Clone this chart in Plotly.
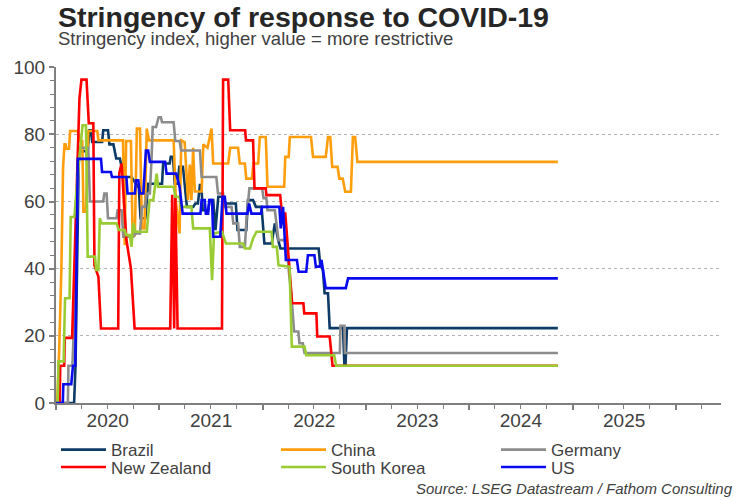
import plotly.graph_objects as go

# ---------------- data ----------------
brazil_dates = ["2020-01-01","2020-03-05","2020-03-10","2020-03-16","2020-03-22","2020-04-22","2020-04-28","2020-05-04","2020-05-08","2020-06-12","2020-06-16","2020-07-03","2020-07-08","2020-07-22","2020-08-01","2020-08-14","2020-08-20","2020-08-30","2020-09-24","2020-10-04","2020-10-20","2020-10-26","2020-11-12","2020-11-22","2020-12-10","2021-01-10","2021-01-14","2021-02-06","2021-02-10","2021-02-18","2021-02-24","2021-03-07","2021-03-12","2021-03-25","2021-04-08","2021-04-30","2021-05-08","2021-05-17","2021-05-24","2021-05-29","2021-06-03","2021-06-22","2021-06-28","2021-07-10","2021-07-18","2021-07-28","2021-08-10","2021-08-20","2021-09-28","2021-10-04","2021-11-04","2021-11-10","2021-11-28","2021-12-08","2021-12-28","2022-01-07","2022-02-02","2022-02-13","2022-02-25","2022-03-05","2022-07-18","2022-07-23","2022-08-02","2022-08-08","2022-08-20","2022-08-26","2022-10-12","2022-10-17","2022-10-21","2022-10-26","2024-11-10"]
brazil_vals = [0,0,11,40,75,75,81.2,81.2,77.7,77.7,81.2,81.2,77,77,72.8,72.8,70.3,67.3,67.3,66,64,55,55,65.3,65.3,65.3,71.3,71.3,73.3,73.3,65.3,65.3,70.3,70.3,58.4,58.4,59.4,59.4,64.9,64.9,57.4,57.4,60.4,60.4,51.5,61.4,61.4,59.4,59.4,51.5,51.5,60.4,60.4,58.4,58.4,47.5,47.5,53.5,48.5,46,46,41.6,39.6,32.7,32.7,22.3,22.3,11.4,11.4,22.3,22.3]

china_dates = ["2020-01-01","2020-01-05","2020-01-12","2020-01-20","2020-01-26","2020-01-31","2020-02-04","2020-02-07","2020-02-16","2020-02-20","2020-03-18","2020-03-24","2020-04-03","2020-04-07","2020-04-16","2020-04-24","2020-05-26","2020-05-30","2020-08-25","2020-08-31","2020-09-05","2020-09-22","2020-09-28","2020-10-06","2020-10-13","2020-10-24","2020-10-31","2020-11-09","2020-11-17","2020-11-25","2021-02-20","2021-02-28","2021-03-13","2021-03-19","2021-03-31","2021-04-12","2021-04-18","2021-04-24","2021-04-30","2021-05-06","2021-05-30","2021-06-05","2021-06-20","2021-07-04","2021-07-10","2021-09-01","2021-09-08","2021-10-06","2021-10-12","2021-10-30","2021-11-04","2021-11-24","2021-11-29","2021-12-16","2021-12-22","2022-01-12","2022-01-18","2022-03-18","2022-03-22","2022-04-03","2022-04-07","2022-06-21","2022-06-28","2022-08-12","2022-08-20","2022-08-28","2022-09-04","2022-09-23","2022-09-29","2022-10-11","2022-10-20","2022-11-09","2022-11-16","2022-11-24","2022-12-02","2024-11-10"]
china_vals = [0,0,15,40,70,77,77,75.7,75.7,81,81,78,78,57,57,81,81,78.2,78.2,47,78,78,50,50,81.7,81.7,52,52,81.7,78.2,78.2,60,50.5,78.2,77.7,60.4,71,60.4,76,63,63,77,76,81.7,71.3,71.3,76,76,71.3,71.3,66.8,66.8,71.3,71.3,79.2,79.2,64.4,64.4,73.3,73.3,79.2,79.2,73.3,73.3,79.2,79.2,70.3,70.3,66.8,66.8,62.9,62.9,79.2,79.2,71.8,71.8]

germany_dates = ["2020-01-01","2020-02-12","2020-02-14","2020-02-28","2020-03-08","2020-03-16","2020-03-24","2020-04-24","2020-04-30","2020-06-16","2020-06-20","2020-06-28","2020-07-03","2020-08-02","2020-08-06","2020-08-20","2020-08-26","2020-10-01","2020-10-06","2020-10-24","2020-10-31","2020-11-10","2020-11-17","2020-11-28","2020-12-04","2020-12-08","2020-12-20","2020-12-29","2021-01-06","2021-01-10","2021-02-20","2021-02-26","2021-03-13","2021-03-19","2021-05-24","2021-05-30","2021-07-21","2021-07-27","2021-08-14","2021-08-20","2021-09-13","2021-09-19","2021-10-06","2021-10-12","2021-10-30","2021-11-05","2021-11-15","2021-12-30","2022-01-04","2022-01-14","2022-01-18","2022-02-13","2022-02-26","2022-03-25","2022-04-05","2022-04-12","2022-04-22","2022-05-07","2022-05-11","2022-05-23","2022-05-29","2022-10-01","2022-10-03","2022-10-17","2022-10-19","2024-11-10"]
germany_vals = [0,0,11.1,11.1,30,60,76,76,60,60,62.4,62.4,55,55,57.4,57.4,49.5,49.5,50.5,50.5,58.4,58.4,62.4,62.4,73,82.2,82.2,85.1,85.1,83.6,83.6,78,78,75.2,75.2,67.3,67.3,62.4,62.4,58.4,58.4,53.5,53.5,46.5,46.5,55,63.9,63.9,61,61,57.4,57.4,48.5,48.5,38,32.7,21.3,21.3,17.8,17.8,14.9,14.9,23,23,14.9,14.9]

nz_dates = ["2020-01-01","2020-01-14","2020-01-16","2020-01-30","2020-02-01","2020-02-27","2020-03-24","2020-03-31","2020-04-18","2020-04-26","2020-05-12","2020-05-16","2020-05-30","2020-06-08","2020-08-08","2020-08-12","2020-08-20","2020-09-06","2020-09-22","2020-10-05","2021-02-08","2021-02-15","2021-02-22","2021-02-26","2021-03-06","2021-08-10","2021-08-14","2021-09-01","2021-09-08","2021-10-31","2021-11-03","2021-11-28","2021-12-03","2022-01-12","2022-01-14","2022-03-04","2022-03-10","2022-03-22","2022-04-15","2022-05-25","2022-05-28","2022-07-10","2022-07-13","2022-08-26","2022-09-05","2024-11-10"]
nz_vals = [0,0,11.1,11.1,19.4,19.4,90.7,96.3,96.3,83.3,83.3,41,37.6,22.2,22.2,68.5,71.3,48.6,40,22.2,22.2,62,22.2,62,22.2,22.2,96.3,96.3,81.2,81.2,78.2,78.2,63.9,63.9,61.9,61.9,56.4,56.4,29.7,29.7,26.7,26.7,19.8,19.8,11.1,11.1]

korea_dates = ["2020-01-01","2020-01-07","2020-01-10","2020-01-28","2020-02-02","2020-02-18","2020-02-22","2020-03-06","2020-03-20","2020-04-04","2020-04-16","2020-04-22","2020-05-18","2020-05-22","2020-05-30","2020-06-04","2020-06-10","2020-08-02","2020-08-10","2020-08-31","2020-09-05","2020-09-18","2020-09-24","2020-09-30","2020-10-08","2020-11-17","2020-11-27","2020-12-10","2020-12-16","2020-12-22","2020-12-27","2021-02-20","2021-02-26","2021-03-13","2021-03-19","2021-04-24","2021-04-30","2021-06-28","2021-07-06","2021-07-13","2021-08-10","2021-08-24","2021-10-24","2021-10-30","2021-11-17","2021-11-28","2021-12-10","2022-02-01","2022-02-06","2022-02-20","2022-02-26","2022-04-06","2022-04-14","2022-05-29","2022-06-04","2022-09-11","2022-09-18","2024-11-10"]
korea_vals = [0,0,12.4,12.4,31.2,31.2,55.4,55.4,70,82.7,82.7,43.6,43.6,39.6,39.6,55,53.5,53.5,51.5,51.5,50,50,46.5,53.5,51,51,60.4,60.4,64.4,68.3,64.4,64.4,61.4,61.4,58.4,58.4,52,52,36.6,50.5,51,47.5,47.5,46,46,49,51,51,46.5,46.5,41,40.6,16.8,16.8,14.2,14.2,11.1,11.1]

us_dates = ["2020-01-01","2020-01-25","2020-01-27","2020-02-24","2020-03-01","2020-03-09","2020-03-18","2020-06-08","2020-06-12","2020-07-13","2020-07-17","2020-09-06","2020-09-10","2020-10-06","2020-10-10","2020-10-18","2020-10-24","2020-11-05","2020-11-14","2020-11-22","2020-11-28","2021-01-21","2021-01-26","2021-03-01","2021-03-13","2021-03-24","2021-05-26","2021-05-30","2021-06-10","2021-06-14","2021-06-22","2021-06-26","2021-07-06","2021-07-10","2021-08-04","2021-08-12","2021-08-20","2021-08-26","2021-11-08","2021-11-14","2021-11-22","2021-12-26","2021-12-30","2022-03-01","2022-03-06","2022-03-14","2022-03-24","2022-05-02","2022-05-08","2022-06-04","2022-06-10","2022-07-03","2022-07-08","2022-07-21","2022-07-28","2022-08-12","2022-10-22","2022-10-30","2024-11-10"]
us_vals = [0,0,5.6,5.6,11.1,11.1,72.7,72.7,68.8,68.8,67.3,67.3,62.4,62.4,66.3,66.3,62.4,62.4,75.2,75.2,71.8,71.8,68.3,68.3,64.4,56.4,56.4,60.4,60.4,56.4,56.4,60.4,60.4,49.5,49.5,61.4,61.4,56.4,56.4,59.4,56.4,56.4,58.4,58.4,52,58.4,42.6,42.6,39.1,39.1,44,44,40.6,40.6,42.6,34.2,34.2,37.1,37.1]

series = [
    ("Brazil", brazil_dates, brazil_vals, "#0b3b66", "legend"),
    ("China", china_dates, china_vals, "#ff9e0d", "legend"),
    ("Germany", germany_dates, germany_vals, "#8c8c8c", "legend"),
    ("New Zealand", nz_dates, nz_vals, "#ff0000", "legend2"),
    ("South Korea", korea_dates, korea_vals, "#99cc33", "legend2"),
    ("US", us_dates, us_vals, "#0a0aef", "legend2"),
]

title_text = "Stringency of response to COVID-19"
subtitle_text = "Stringency index, higher value = more restrictive"
source_text = "Source: LSEG Datastream / Fathom Consulting"

# ---------------- figure ----------------
fig = go.Figure()
for name, d, v, col, lg in series:
    fig.add_trace(go.Scatter(x=d, y=v, name=name, mode="lines",
                             line=dict(color=col, width=2.6),
                             legend=lg))

FONT = "Liberation Sans, Arial, sans-serif"
TXT = "#404040"
AX = "#7f7f7f"

legend_common = dict(orientation="h", xanchor="left", x=0.0, yanchor="middle",
                     entrywidth=160, entrywidthmode="pixels", itemwidth=45,
                     font=dict(family=FONT, size=17, color=TXT),
                     bgcolor="rgba(0,0,0,0)", borderwidth=0, traceorder="normal")

fig.update_layout(
    width=750, height=500,
    margin=dict(l=56, r=29, t=67, b=97, autoexpand=False),
    paper_bgcolor="white", plot_bgcolor="white",
    font=dict(family=FONT, color=TXT),
    showlegend=True,
    legend=dict(legend_common, y=-0.140),
    legend2=dict(legend_common, y=-0.192),
    xaxis=dict(
        type="date", range=["2020-01-01", "2026-06-10"],
        dtick="M12", tick0="2020-01-01", tickformat="%Y", ticklabelmode="period",
        ticks="outside", ticklen=5, tickwidth=1.5, tickcolor=AX,
        ticklabelstandoff=-6,
        showline=True, linecolor=AX, linewidth=2,
        showgrid=False, zeroline=False, automargin=False,
        tickfont=dict(family=FONT, size=19, color=TXT),
        minor=dict(dtick="M3", ticks="outside", ticklen=4, tickwidth=1.2, tickcolor=AX, showgrid=False),
    ),
    yaxis=dict(
        range=[0, 100.05], dtick=20, tick0=0,
        ticks="outside", ticklen=5, tickwidth=1.5, tickcolor=AX,
        showline=True, linecolor=AX, linewidth=2,
        showgrid=True, gridcolor="#b3b3b3", gridwidth=1, griddash="dot",
        zeroline=False, automargin=False,
        tickfont=dict(family=FONT, size=19, color=TXT),
        minor=dict(dtick=4, ticks="outside", ticklen=4, tickwidth=1.2, tickcolor=AX, showgrid=False),
    ),
    annotations=[
        dict(text="<b>" + title_text + "</b>", xref="paper", yref="paper", x=0, y=1.148,
             xanchor="left", yanchor="middle", showarrow=False,
             font=dict(family=FONT, size=28.5, color="#262626")),
        dict(text=subtitle_text, xref="paper", yref="paper", x=0, y=1.084,
             xanchor="left", yanchor="middle", showarrow=False,
             font=dict(family=FONT, size=18.5, color=TXT)),
        dict(text="<i>" + source_text + "</i>", xref="paper", yref="paper", x=1.021, y=-0.254,
             xanchor="right", yanchor="middle", showarrow=False,
             font=dict(family=FONT, size=15, color=TXT)),
    ],
)

fig.write_html("out.html",
               config={"displayModeBar": False},
               post_script="document.body.style.margin='0px';document.body.style.overflow='hidden';")
